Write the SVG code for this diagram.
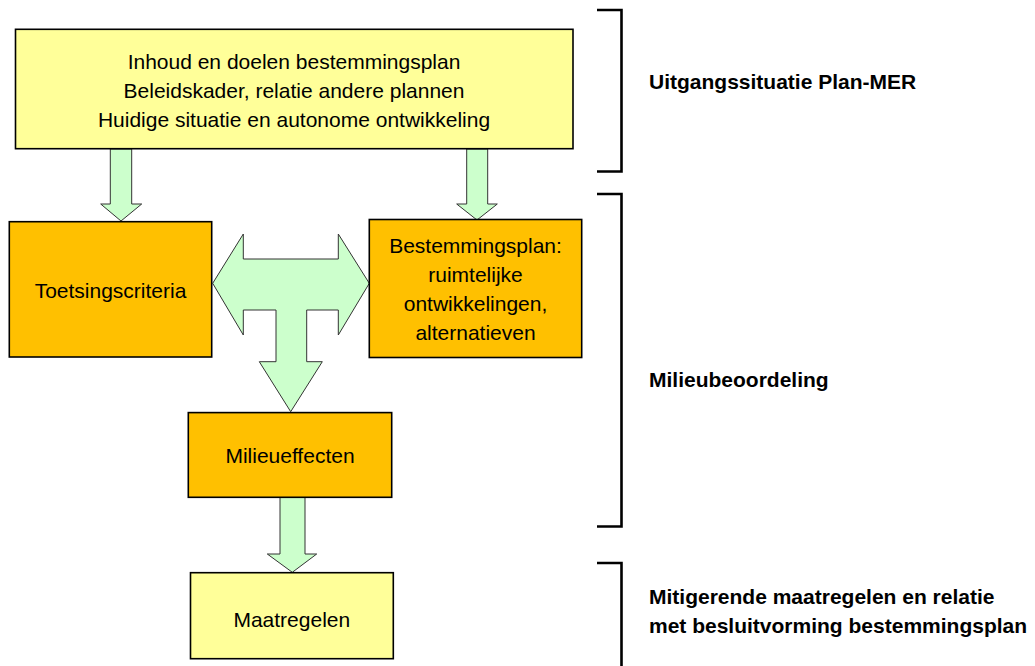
<svg xmlns="http://www.w3.org/2000/svg" width="1035" height="666" viewBox="0 0 1035 666">
<style>
.box{stroke:#000;stroke-width:1.6}
.y{fill:#FFFF99}
.o{fill:#FFC000}
.t{font-family:"Liberation Sans",Arial,sans-serif;font-size:21px;fill:#000;text-anchor:middle}
.lbl{font-family:"Liberation Sans",Arial,sans-serif;font-size:21px;font-weight:bold;fill:#000}
.arr{fill:#CCFFCC;stroke:#333;stroke-width:1}
.br{fill:none;stroke:#000;stroke-width:2.6}
</style>
<rect width="1035" height="666" fill="#fff"/>
<g id="connectors">
<polygon class="arr" points="110.3,149 131.7,149 131.7,204 141.7,204 121,221 100.7,204 110.3,204"/>
<polygon class="arr" points="466.7,149 487.7,149 487.7,204 497.3,204 477,220 456.7,204 466.7,204"/>
<polygon class="arr" points="212.7,283.3 243.3,234 243.3,259 338.3,259 338.3,234 369.3,283.3 338.3,335 338.3,310 306.7,310 306.7,361.7 322.3,361.7 290.7,411.7 259.3,361.7 276,361.7 276,310 243.3,310 243.3,335"/>
<polygon class="arr" points="280,497 305,497 305,554 316.7,554 292.3,572.3 267.3,554 280,554"/>
</g>
<g id="node-uitgang">
<rect class="box y" x="15.5" y="29.3" width="557.5" height="119.4"/>
<text class="t" x="294" y="69">Inhoud en doelen bestemmingsplan</text>
<text class="t" x="294" y="98">Beleidskader, relatie andere plannen</text>
<text class="t" x="294" y="127">Huidige situatie en autonome ontwikkeling</text>
</g>
<g id="node-toetsing">
<rect class="box o" x="9.3" y="221.7" width="202.4" height="135.3"/>
<text class="t" x="110.5" y="298">Toetsingscriteria</text>
</g>
<g id="node-bestemmingsplan">
<rect class="box o" x="369.3" y="219.5" width="212.4" height="138"/>
<text class="t" x="475.5" y="253">Bestemmingsplan:</text>
<text class="t" x="475.5" y="282">ruimtelijke</text>
<text class="t" x="475.5" y="311">ontwikkelingen,</text>
<text class="t" x="475.5" y="340">alternatieven</text>
</g>
<g id="node-milieueffecten">
<rect class="box o" x="188.3" y="412.6" width="203.4" height="84.7"/>
<text class="t" x="290" y="463">Milieueffecten</text>
</g>
<g id="node-maatregelen">
<rect class="box y" x="190.5" y="572.7" width="202.8" height="86"/>
<text class="t" x="291.8" y="626.5">Maatregelen</text>
</g>
<g id="phases">
<polyline class="br" points="597,10 621.5,10 621.5,171.5 597,171.5"/>
<polyline class="br" points="597,194 621.5,194 621.5,526.5 597,526.5"/>
<polyline class="br" points="597,563 621.5,563 621.5,670"/>
<text class="lbl" x="649" y="89">Uitgangssituatie Plan-MER</text>
<text class="lbl" x="649" y="387">Milieubeoordeling</text>
<text class="lbl" x="649" y="604">Mitigerende maatregelen en relatie</text>
<text class="lbl" x="649" y="633">met besluitvorming bestemmingsplan</text>
</g>
</svg>
